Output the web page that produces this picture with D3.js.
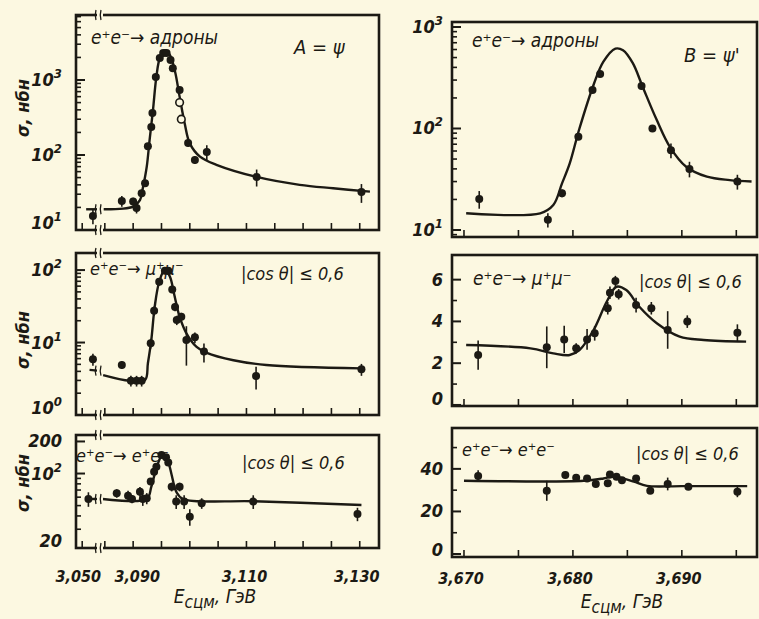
<!DOCTYPE html>
<html><head><meta charset="utf-8">
<script src="https://cdn.jsdelivr.net/npm/d3@7"></script>
<style>
html,body{margin:0;padding:0;background:#fcf8e1;}
svg{display:block;}
text{font-family:"DejaVu Sans Condensed","DejaVu Sans",sans-serif;font-style:italic;fill:#1c1a14;}
</style></head><body>
<svg id="chart" width="759" height="619"></svg>
<script>
// ---------- X ticks ----------
const leftTicks = [3.050, 3.085, 3.090, 3.095, 3.100, 3.105, 3.110, 3.115, 3.120, 3.125, 3.130];
const leftTickLabelVals = [3.050, 3.090, 3.110, 3.130];
const leftTickLabels = ["3,050", "3,090", "3,110", "3,130"];
const rightTicks = [3.670, 3.675, 3.680, 3.685, 3.690, 3.695];
const rightTickLabelVals = [3.670, 3.680, 3.690];
const rightTickLabels = ["3,670", "3,680", "3,690"];

// ---------- Panel A: e+e- -> hadrons at psi(3095) ----------
const hadJ_E = [3.0519, 3.0880, 3.0900, 3.0906, 3.0915, 3.0921, 3.0926, 3.0932, 3.0934, 3.0940, 3.0947, 3.0953, 3.0959, 3.0966, 3.0970, 3.0982, 3.0997, 3.1009, 3.1030, 3.1118, 3.1303];
const hadJ_S = [15.4, 24.4, 24, 19.6, 31, 42, 131, 237, 363, 1100, 1960, 2300, 2300, 1850, 1440, 735, 145, 86, 110, 51, 32];
const hadJ_Err = [3.5, 4, 3, 3, 3, 4, 12, 20, 30, 90, 150, 170, 170, 140, 110, 60, 15, 10, 25, 13, 9];
const hadJ_openE = [3.0982, 3.0985];
const hadJ_openS = [500, 300];
const hadJ_curveE = [3.0507, 3.0528, 3.0848, 3.0900, 3.0912, 3.0917, 3.0924, 3.0929, 3.0935, 3.0941, 3.0947, 3.0956, 3.0965, 3.0974, 3.0982, 3.0991, 3.1000, 3.1018, 3.1047, 3.1118, 3.1194, 3.1253, 3.1318];
const hadJ_curveS = [18.9, 18.9, 18.9, 20.5, 25, 36, 70, 158, 398, 1107, 1950, 2500, 2150, 1290, 600, 264, 143, 95, 74, 51, 40, 36, 32.5];

// ---------- Panel: e+e- -> mu+mu- at psi ----------
const muJ_E = [3.0519, 3.0880, 3.0896, 3.0906, 3.0915, 3.0931, 3.0937, 3.0946, 3.0956, 3.0962, 3.0969, 3.0974, 3.0977, 3.0985, 3.0994, 3.1009, 3.1025, 3.1117, 3.1303];
const muJ_S = [5.9, 4.9, 2.97, 2.97, 2.97, 9.75, 27.5, 69, 98, 98, 54, 31, 20.4, 22.7, 10.8, 11.8, 7.5, 3.45, 4.27];
const muJ_Err = [1.1, 0.6, 0.5, 0.5, 0.5, 1.5, 4, 8, 10, 10, 6, 4, 3, 3, 6, 2, 2.2, 1.2, 0.8];
const muJ_curveE = [3.0513, 3.0527, 3.0847, 3.0894, 3.0921, 3.0926, 3.0932, 3.0938, 3.0946, 3.0956, 3.0965, 3.0972, 3.0982, 3.0994, 3.1012, 3.1030, 3.1077, 3.1135, 3.1303];
const muJ_curveS = [4.2, 4.1, 3.56, 2.97, 3.04, 5.16, 10.8, 31, 69, 102, 81, 48, 22.7, 13.4, 8.7, 7.2, 5.7, 4.9, 4.4];

// ---------- Panel: e+e- -> e+e- at psi ----------
const eeJ_E = [3.0511, 3.0871, 3.0891, 3.0898, 3.0912, 3.0917, 3.0924, 3.0931, 3.0937, 3.0941, 3.0950, 3.0958, 3.0962, 3.0968, 3.0976, 3.0982, 3.0990, 3.1000, 3.1021, 3.1112, 3.1296];
const eeJ_S = [57.7, 65.3, 62, 57.7, 67.6, 57.7, 58.5, 84, 104, 116, 149, 142, 127, 75, 54.5, 75, 54.5, 39.3, 52.6, 54.5, 41.7];
const eeJ_Err = [9, 6, 7, 5, 7, 8, 7, 6, 7, 8, 9, 9, 8, 7, 8, 7, 8, 7, 6, 8, 6];
const eeJ_curveE = [3.0509, 3.0528, 3.0846, 3.0924, 3.0932, 3.0941, 3.0950, 3.0956, 3.0962, 3.0968, 3.0976, 3.0988, 3.1112, 3.1303];
const eeJ_curveS = [57.7, 57.7, 57.7, 57.7, 75, 112, 146, 149, 129, 97, 67.6, 57.7, 55, 50.7];

// ---------- Panel B: e+e- -> hadrons at psi' ----------
const hadP_E = [3.6714, 3.6777, 3.6790, 3.6805, 3.6818, 3.6825, 3.6863, 3.6873, 3.6890, 3.6907, 3.6951];
const hadP_S = [20.2, 12.6, 23, 83, 240, 344, 262, 100, 61, 40, 30];
const hadP_Err = [4, 2, 2, 5, 15, 15, 20, 7, 10, 7, 5];
const hadP_curveE = [3.6702, 3.6770, 3.6782, 3.6790, 3.6797, 3.6806, 3.6819, 3.6828, 3.6839, 3.6846, 3.6855, 3.6864, 3.6877, 3.6889, 3.6904, 3.6923, 3.6944, 3.6964];
const hadP_curveS = [14.6, 14.6, 17.6, 28.8, 45, 100, 270, 455, 612, 590, 440, 258, 121, 66, 42, 33.5, 31, 30];

// ---------- Panel: e+e- -> mu+mu- at psi' ----------
const muP_E = [3.6713, 3.6776, 3.6792, 3.6803, 3.6813, 3.6820, 3.6832, 3.6834, 3.6839, 3.6842, 3.6858, 3.6872, 3.6887, 3.6905, 3.6951];
const muP_S = [2.39, 2.76, 3.14, 2.71, 3.14, 3.43, 4.63, 5.37, 5.93, 5.30, 4.78, 4.63, 3.59, 3.99, 3.46];
const muP_Err = [0.7, 1.0, 0.65, 0.25, 0.5, 0.35, 0.3, 0.3, 0.25, 0.25, 0.35, 0.3, 0.9, 0.3, 0.4];
const muP_curveE = [3.6702, 3.6761, 3.6782, 3.6797, 3.6806, 3.6819, 3.6831, 3.6840, 3.6849, 3.6861, 3.6877, 3.6898, 3.6920, 3.6959];
const muP_curveS = [2.87, 2.71, 2.47, 2.39, 2.63, 3.59, 4.94, 5.66, 5.50, 4.70, 3.91, 3.27, 3.11, 3.03];

// ---------- Panel: e+e- -> e+e- at psi' ----------
const eeP_E = [3.6713, 3.6776, 3.6793, 3.6803, 3.6813, 3.6821, 3.6832, 3.6834, 3.6840, 3.6845, 3.6858, 3.6871, 3.6887, 3.6906, 3.6951];
const eeP_S = [36.6, 29.7, 37.1, 35.8, 35.5, 32.9, 33.2, 37.4, 36.3, 34.7, 35.5, 29.7, 32.9, 31.6, 29.2];
const eeP_Err = [2.7, 4.7, 1.5, 1.2, 1.2, 1.5, 1.5, 1.2, 1.2, 1.2, 1.2, 1.5, 3, 1.2, 2.5];
const eeP_curveE = [3.6700, 3.6810, 3.6828, 3.6836, 3.6846, 3.6856, 3.6868, 3.6900, 3.6960];
const eeP_curveS = [34.4, 34.4, 35.5, 36.3, 35.5, 34, 32, 31.9, 31.9];

// ---------- texts ----------
const yTitle = "σ, нбн";
const xTitleBase = "E", xTitleSub = "сцм", xTitleRest = ", ГэВ";
const titleHad = "e⁺e⁻→ адроны";
const titleMu = "e⁺e⁻→ μ⁺μ⁻";
const titleEe = "e⁺e⁻→ e⁺e⁻";
const cosCut = "|cos θ| ≤ 0,6";

// ================= drawing =================
const INK = "#1c1a14", BG = "#fcf8e1";
const svg = d3.select("#chart");
svg.append("rect").attr("width", 759).attr("height", 619).attr("fill", BG);

const xLeft = d3.scaleLinear().domain([3.0489, 3.0528, 3.0845, 3.1334]).range([76, 98, 102, 379]);
const xRight = d3.scaleLinear().domain([3.6689, 3.6969]).range([452, 757]);

function zip(a, b) { return a.map((v, i) => [v, b[i]]); }

const panels = [
  { x: xLeft, y: d3.scaleLog().domain([10, 7360]).range([230, 15]), log: true,
    E: hadJ_E, S: hadJ_S, Err: hadJ_Err, cE: hadJ_curveE, cS: hadJ_curveS, broken: true,
    yMajor: [[10, "10", "1"], [100, "10", "2"], [1000, "10", "3"]], labX: 64,
    texts: [[titleHad, 91, 44, 19], ["A = ψ", 294, 54, 20]], ticks: leftTicks, yTitleY: 108 },
  { x: xLeft, y: d3.scaleLog().domain([1, 172]).range([415, 253]), log: true,
    E: muJ_E, S: muJ_S, Err: muJ_Err, cE: muJ_curveE, cS: muJ_curveS, broken: true,
    yMajor: [[1, "10", "0"], [10, "10", "1"], [100, "10", "2"]], labX: 64,
    texts: [[titleMu, 90, 275, 18], [cosCut, 241, 280, 18]], ticks: leftTicks, yTitleY: 340 },
  { x: xLeft, y: d3.scaleLog().domain([20, 230]).range([548, 435]), log: true,
    E: eeJ_E, S: eeJ_S, Err: eeJ_Err, cE: eeJ_curveE, cS: eeJ_curveS, broken: true,
    yMajor: [[20, "20", ""], [100, "10", "2"], [200, "200", ""]], labX: 64,
    texts: [[titleEe, 76, 462, 18], [cosCut, 242, 469, 18]], ticks: leftTicks, yTitleY: 483 },
  { x: xRight, y: d3.scaleLog().domain([8.53, 1120]).range([237, 22]), log: true,
    E: hadP_E, S: hadP_S, Err: hadP_Err, cE: hadP_curveE, cS: hadP_curveS,
    yMajor: [[10, "10", "1"], [100, "10", "2"], [1000, "10", "3"]], labX: 445,
    texts: [[titleHad, 472, 47, 19], ["B = ψ'", 684, 62, 20]], ticks: rightTicks },
  { x: xRight, y: d3.scaleLinear().domain([-0.05, 7.18]).range([406, 255]),
    E: muP_E, S: muP_S, Err: muP_Err, cE: muP_curveE, cS: muP_curveS,
    yMajor: [[0, "0", ""], [2, "2", ""], [4, "4", ""], [6, "6", ""]], yMinor: [1, 3, 5], labX: 445,
    texts: [[titleMu, 473, 285, 19], [cosCut, 639, 288, 18]], ticks: rightTicks },
  { x: xRight, y: d3.scaleLinear().domain([-1.4, 59.2]).range([557, 428]),
    E: eeP_E, S: eeP_S, Err: eeP_Err, cE: eeP_curveE, cS: eeP_curveS,
    yMajor: [[0, "0", ""], [20, "20", ""], [40, "40", ""]], yMinor: [10, 30, 50], labX: 445,
    texts: [[titleEe, 462, 456, 18], [cosCut, 636, 460, 18]], ticks: rightTicks }
];

function breakMark(g, x, y) {
  g.append("rect").attr("x", x - 3).attr("y", y - 3).attr("width", 6).attr("height", 6).attr("fill", BG);
  [-2.5, 2.5].forEach(d => {
    g.append("path").attr("d", `M${x + d - 1.5},${y + 5} Q${x + d - 3},${y} ${x + d - 1.5},${y - 5}`)
      .attr("fill", "none").attr("stroke", INK).attr("stroke-width", 1.3);
  });
}

panels.forEach(p => {
  const g = svg.append("g");
  const [x0, x1] = [p.x.range()[0], p.x.range()[p.x.range().length - 1]];
  const [yb, yt] = p.y.range();
  const x = p.x, y = p.y;

  // x ticks
  p.ticks.forEach(t => {
    g.append("line").attr("x1", x(t)).attr("x2", x(t)).attr("y1", yb).attr("y2", yb - 7)
      .attr("stroke", INK).attr("stroke-width", 1.6);
  });
  // y ticks
  const majVals = p.yMajor.map(d => d[0]);
  let minors = [];
  if (p.log) {
    const [d0, d1] = y.domain();
    for (let k = -1; k <= 4; k++) for (let m = 2; m <= 9; m++) {
      const v = m * Math.pow(10, k);
      if (v > d0 && v < d1 && !majVals.includes(v)) minors.push(v);
    }
  } else minors = p.yMinor;
  minors.forEach(v => g.append("line").attr("x1", x0).attr("x2", x0 + 5).attr("y1", y(v)).attr("y2", y(v))
    .attr("stroke", INK).attr("stroke-width", 1.6));
  p.yMajor.forEach(([v, b, s]) => {
    g.append("line").attr("x1", x0).attr("x2", x0 + 9).attr("y1", y(v)).attr("y2", y(v))
      .attr("stroke", INK).attr("stroke-width", 2);
    const ty = Math.min(y(v) + 6, yb - 1);
    const t = g.append("text").attr("x", p.labX - 2).attr("y", ty).attr("text-anchor", "end")
      .attr("font-size", 18).attr("font-weight", "bold");
    t.append("tspan").text(b);
    if (s) t.append("tspan").attr("dy", -8).attr("font-size", 13).text(s);
  });

  // frame
  g.append("rect").attr("x", x0).attr("y", yt).attr("width", x1 - x0).attr("height", yb - yt)
    .attr("fill", "none").attr("stroke", INK).attr("stroke-width", 2.6);
  if (p.broken) { breakMark(g, 100, yt); breakMark(g, 100, yb); }

  // curve (split at break for left panels)
  const line = d3.line().x(d => x(d[0])).y(d => y(d[1])).curve(d3.curveCatmullRom.alpha(0.5));
  const pts = zip(p.cE, p.cS);
  const segs = p.broken ? [pts.filter(d => d[0] < 3.07), pts.filter(d => d[0] > 3.07)] : [pts];
  segs.forEach(s => g.append("path").attr("d", line(s)).attr("fill", "none")
    .attr("stroke", INK).attr("stroke-width", 2.4));
  if (p.broken) {
    const left = segs[0][segs[0].length - 1];
    breakMark(g, 100, y(left[1]));
  }

  // error bars + points
  const data = p.E.map((e, i) => ({ e, s: p.S[i], err: p.Err[i] }));
  data.forEach(d => {
    const lo = Math.max(d.s - d.err, y.domain()[0]);
    g.append("line").attr("x1", x(d.e)).attr("x2", x(d.e)).attr("y1", y(lo)).attr("y2", y(d.s + d.err))
      .attr("stroke", INK).attr("stroke-width", 1.6);
  });
  g.selectAll("circle.pt").data(data).join("circle").attr("class", "pt")
    .attr("cx", d => x(d.e)).attr("cy", d => y(d.s)).attr("r", 4).attr("fill", INK);

  // texts
  p.texts.forEach(([txt, tx, ty, fs]) => g.append("text").attr("x", tx).attr("y", ty)
    .attr("font-size", fs).text(txt));

  if (p.yTitleY) {
    g.append("text").attr("transform", `translate(29,${p.yTitleY}) rotate(-90)`).attr("text-anchor", "middle")
      .attr("font-size", 18).attr("font-weight", "bold").text(yTitle);
  }
});

// open circles in panel A
const pA = panels[0];
svg.selectAll("circle.open").data(zip(hadJ_openE, hadJ_openS)).join("circle").attr("class", "open")
  .attr("cx", d => pA.x(d[0])).attr("cy", d => pA.y(d[1])).attr("r", 3.8)
  .attr("fill", BG).attr("stroke", INK).attr("stroke-width", 1.6);

// x tick labels
const leftShift = [-4, 4, -2, -3];
leftTickLabelVals.forEach((v, i) => svg.append("text").attr("x", xLeft(v) + leftShift[i]).attr("y", 582)
  .attr("text-anchor", "middle").attr("font-size", 16).attr("font-weight", "bold").text(leftTickLabels[i]));
rightTickLabelVals.forEach((v, i) => svg.append("text").attr("x", xRight(v) - 3).attr("y", 584)
  .attr("text-anchor", "middle").attr("font-size", 16).attr("font-weight", "bold").text(rightTickLabels[i]));

// x titles
[[215, 603], [622, 608]].forEach(([tx, ty]) => {
  const t = svg.append("text").attr("x", tx).attr("y", ty).attr("text-anchor", "middle").attr("font-size", 19);
  t.append("tspan").text(xTitleBase);
  t.append("tspan").attr("dy", 5).attr("font-size", 17).text(xTitleSub);
  t.append("tspan").attr("dy", -5).text(xTitleRest);
});
</script></body></html>
